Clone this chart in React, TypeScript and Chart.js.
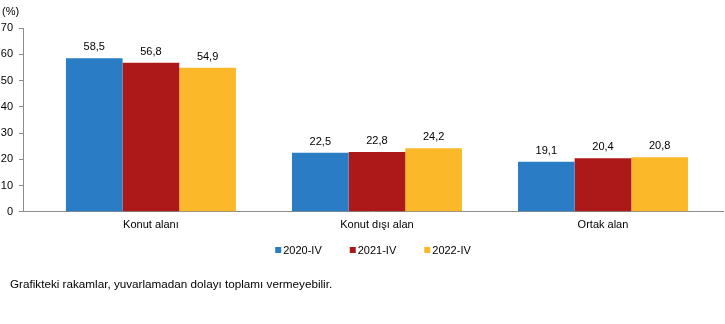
import React, { useEffect, useRef } from "react";
import { Chart, registerables } from "chart.js";

Chart.register(...registerables);

const categories = ["Konut alanı", "Konut dışı alan", "Ortak alan"];
const seriesLabels = ["2020-IV", "2021-IV", "2022-IV"];
const values2020 = [58.5, 22.5, 19.1];
const values2021 = [56.8, 22.8, 20.4];
const values2022 = [54.9, 24.2, 20.8];
const seriesValues = [values2020, values2021, values2022];
const seriesColors = ["#2a7dc4", "#ad1818", "#fbb828"];
const yMin = 0;
const yMax = 70;
const yStep = 10;
const unitLabel = "(%)";
const footnote = "Grafikteki rakamlar, yuvarlamadan dolayı toplamı vermeyebilir.";

const FONT = "Arial, 'Liberation Sans', sans-serif";

const fmt = (v: number) => v.toFixed(1).replace(".", ",");

const overlayPlugin = {
  id: "overlay",
  afterDatasetsDraw(chart: any) {
    const ctx = chart.ctx;
    ctx.save();
    ctx.fillStyle = "#000";
    ctx.font = `11px ${FONT}`;
    ctx.textAlign = "center";
    ctx.textBaseline = "middle";
    chart.data.datasets.forEach((ds: any, di: number) => {
      const meta = chart.getDatasetMeta(di);
      meta.data.forEach((bar: any, i: number) => {
        const v = ds.data[i].y;
        ctx.fillText(fmt(v), bar.x, bar.y - 11);
      });
    });
    ctx.restore();
  },
  afterDraw(chart: any) {
    const ctx = chart.ctx;
    const area = chart.chartArea;
    ctx.save();
    ctx.fillStyle = "#000";
    ctx.font = `11px ${FONT}`;
    ctx.textBaseline = "middle";
    ctx.textAlign = "left";
    // unit label
    ctx.fillText(unitLabel, 2, 12);

    // legend
    const box = 6;
    const gapBoxText = 2;
    const gapItems = 28;
    const widths = chart.data.datasets.map((ds: any) => box + gapBoxText + ctx.measureText(ds.label).width);
    const total = widths.reduce((a: number, b: number) => a + b, 0) + gapItems * (widths.length - 1);
    let x = (area.left + area.right) / 2 - total / 2;
    const ly = 250;
    chart.data.datasets.forEach((ds: any, i: number) => {
      ctx.fillStyle = ds.backgroundColor;
      ctx.fillRect(x, ly - box / 2, box, box);
      ctx.fillStyle = "#000";
      ctx.fillText(ds.label, x + box + gapBoxText, ly + 0.5);
      x += widths[i] + gapItems;
    });

    // footnote
    ctx.font = `11.7px ${FONT}`;
    ctx.fillText(footnote, 10, 285);
    ctx.restore();
  },
};

export default function App() {
  const ref = useRef<HTMLCanvasElement | null>(null);

  useEffect(() => {
    document.body.style.margin = "0";
    const canvas = ref.current;
    if (!canvas) return;
    const chart = new Chart(canvas, {
      type: "bar",
      data: {
        datasets: seriesLabels.map((label, si) => ({
          label,
          data: categories.map((_, ci) => ({ x: ci, y: seriesValues[si][ci] })),
          backgroundColor: seriesColors[si],
          borderWidth: 0,
          categoryPercentage: 0.752,
          barPercentage: 1,
        })),
      },
      options: {
        responsive: false,
        animation: false,
        devicePixelRatio: 1,
        layout: { padding: { top: 28, right: 2, bottom: 85, left: 0 } },
        plugins: {
          legend: { display: false },
          tooltip: { enabled: false },
        },
        scales: {
          x: {
            type: "linear",
            offset: false,
            bounds: "data",
            min: -0.566,
            max: 2.531,
            afterBuildTicks: (scale: any) => {
              scale.ticks = categories.map((_, i) => ({ value: i }));
            },
            grid: { display: false, drawTicks: false, offset: false },
            border: { display: true, color: "#8c8c8c", width: 1 },
            ticks: {
              autoSkip: false,
              maxRotation: 0,
              padding: 7,
              color: "#000",
              font: { family: FONT, size: 11 },
              callback: (v: any) => categories[Math.round(Number(v))] ?? "",
            },
          },
          y: {
            min: yMin,
            max: yMax,
            afterFit: (scale: any) => {
              scale.width = 23;
            },
            grid: {
              drawOnChartArea: false,
              drawTicks: true,
              tickLength: 4,
              color: "#8c8c8c",
            },
            border: { display: true, color: "#8c8c8c", width: 1 },
            ticks: {
              stepSize: yStep,
              padding: 6,
              color: "#000",
              font: { family: FONT, size: 11 },
            },
          },
        },
      },
      plugins: [overlayPlugin],
    } as any);
    return () => chart.destroy();
  }, []);

  return <canvas ref={ref} width={725} height={324} style={{ display: "block" }} />;
}
